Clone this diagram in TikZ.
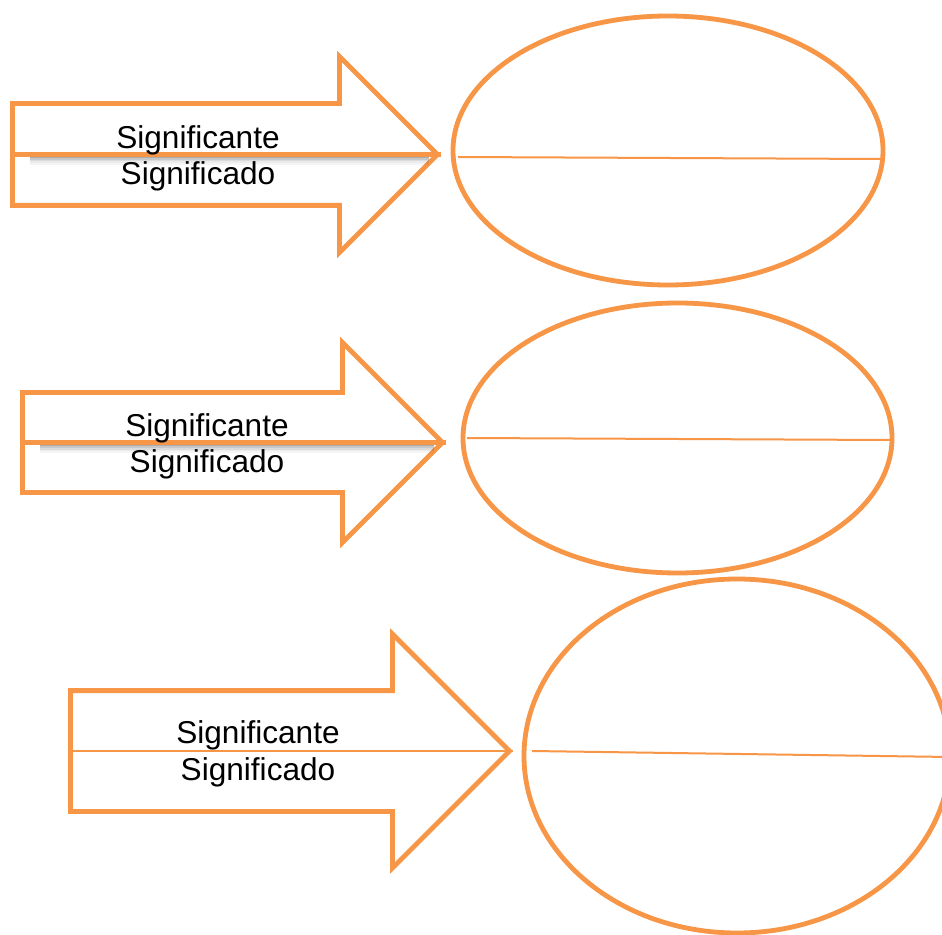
\documentclass[tikz,border=0pt]{standalone}
\usepackage{fontspec}
\setmainfont{Liberation Sans}
\usetikzlibrary{shapes.arrows,shapes.geometric}
\definecolor{naranja}{HTML}{F79646}
\tikzstyle{flecha} = [draw=naranja, fill=white, line width=2.4pt,
    single arrow, single arrow head indent=0pt, inner xsep=0pt, anchor=tail]
\tikzstyle{ovalo} = [draw=naranja, line width=2.4pt, ellipse, inner sep=0pt]
\tikzstyle{raya} = [draw=naranja, line width=1pt]
\tikzstyle{rayagruesa} = [draw=naranja, line width=2.2pt]
\tikzstyle{texto} = [font=\fontsize{15.8}{19}\selectfont, anchor=base, inner sep=0pt]

\begin{document}
\begin{tikzpicture}[x=0.5pt, y=-0.5pt]
\clip (0,0) rectangle (942,935);
\fill[white] (0,0) rectangle (942,935);

% flechas
\node[flecha, minimum height=212.5pt, inner ysep=24.25pt,
    single arrow head extend=23.5pt] (a1) at (10,154.5) {};
\node[flecha, minimum height=210pt, inner ysep=23.75pt,
    single arrow head extend=25pt] (a2) at (20,442.5) {};
\node[flecha, minimum height=219.5pt, inner ysep=29pt,
    single arrow head extend=28.25pt] (a3) at (68,751) {};

% sombra de la raya
\foreach \f in {a1,a2}
    \foreach \d/\o in {1.5/0.32,2.3/0.22,3.1/0.14,3.9/0.08,4.7/0.04}
        \draw[black, opacity=\o, line width=0.8pt]
            ([xshift=10pt, yshift=-\d pt]\f.tail) -- ([xshift=-6pt, yshift=-\d pt]\f.tip);
\draw[rayagruesa] (a1.tail) -- (a1.tip);
\draw[rayagruesa] (a2.tail) -- (a2.tip);
\draw[raya] (a3.tail) -- (a3.tip);

\node[texto] (ste1) at (198,149) {Significante};
\node[texto] (sdo1) at (198,185) {Significado};
\node[texto] (ste2) at (207,437) {Significante};
\node[texto] (sdo2) at (207,473) {Significado};
\node[texto] (ste3) at (258,743) {Significante};
\node[texto] (sdo3) at (258,780) {Significado};

% ovalos
\node[ovalo, minimum width=215pt, minimum height=134.5pt] (e1) at (668,150.5) {};
\node[ovalo, minimum width=214.5pt, minimum height=135pt] (e2) at (677.5,438) {};
\node[ovalo, minimum width=213pt, minimum height=177pt] (e3) at (737,756) {};

\coordinate (i1) at (458,157); \coordinate (d1) at (881,159);
\coordinate (i2) at (467,438); \coordinate (d2) at (890,440);
\coordinate (i3) at (532,751); \coordinate (d3) at (950,757);
\draw[raya] (i1) -- (d1);
\draw[raya] (i2) -- (d2);
\draw[raya] (i3) -- (d3);
\end{tikzpicture}
\end{document}
